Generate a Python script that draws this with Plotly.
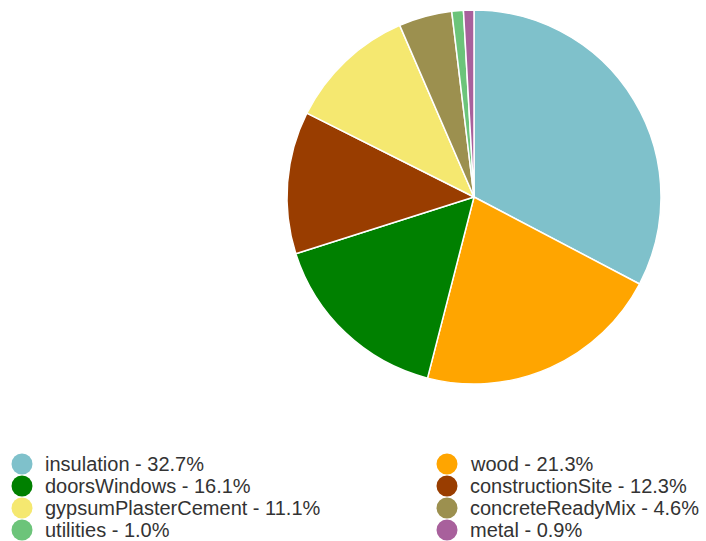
import plotly.graph_objects as go

# Share of material categories
categories = ["insulation", "wood", "doorsWindows", "constructionSite",
              "gypsumPlasterCement", "concreteReadyMix", "utilities", "metal"]
shares = [32.7, 21.3, 16.1, 12.3, 11.1, 4.6, 1.0, 0.9]
colors = ["#7fc1cb", "#ffa500", "#008000", "#993d00",
          "#f5e870", "#9c904f", "#6cc47a", "#a8609c"]

W, H = 706, 541

fig = go.Figure()
fig.add_trace(go.Pie(
    labels=categories,
    values=shares,
    sort=False,
    direction="clockwise",
    rotation=0,
    marker=dict(colors=colors, line=dict(color="white", width=1.5)),
    textinfo="none",
    hoverinfo="label+percent",
    showlegend=False,
    domain=dict(x=[287 / W, 661 / W], y=[(H - 384) / H, (H - 10) / H]),
))

# Two-column legend with round swatches, filled row by row
col_x = [22, 447]
row_y = [464, 486, 508, 530]
for i, (name, val, col) in enumerate(zip(categories, shares, colors)):
    cx = col_x[i % 2]
    cy = row_y[i // 2]
    r = 10.5
    fig.add_shape(type="circle", xref="paper", yref="paper",
                  x0=(cx - r) / W, x1=(cx + r) / W,
                  y0=(H - cy - r) / H, y1=(H - cy + r) / H,
                  fillcolor=col, line=dict(width=0))
    fig.add_annotation(xref="paper", yref="paper",
                       x=(cx + 21) / W, y=(H - cy) / H,
                       xanchor="left", yanchor="middle", showarrow=False,
                       text=f"{name} - {val:.1f}%",
                       font=dict(family="Liberation Sans, Arial", size=20, color="#333333"))

fig.update_layout(
    width=W, height=H,
    margin=dict(l=0, r=0, t=0, b=0),
    paper_bgcolor="white",
    plot_bgcolor="white",
)

fig.write_html("out.html")
